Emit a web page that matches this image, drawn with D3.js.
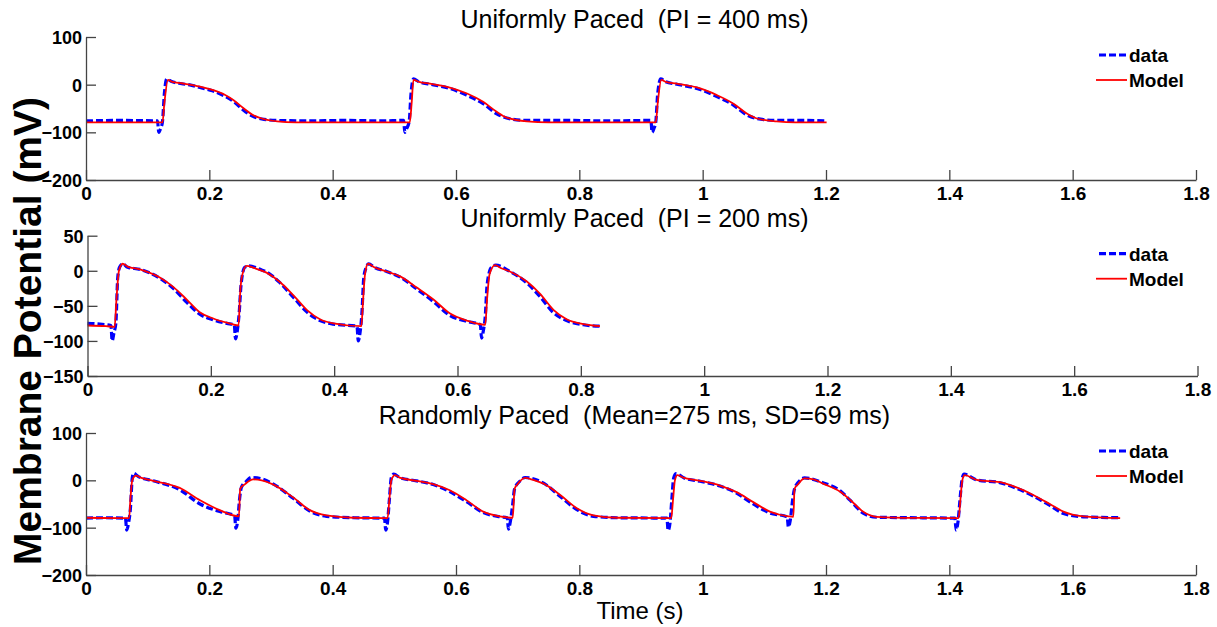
<!DOCTYPE html>
<html>
<head>
<meta charset="utf-8">
<script src="https://cdn.jsdelivr.net/npm/d3@7"></script>
<style>
  html, body { margin: 0; padding: 0; background: #fff; }
  svg { display: block; font-family: "Liberation Sans", Arial, sans-serif; }
  .tick text { font-weight: bold; fill: #000; }
  .ttl { white-space: pre; }
</style>
</head>
<body>
<svg id="chart" width="1217" height="627"></svg>
<script>
// ---------- data (time in s, membrane potential in mV) ----------
const xTicks = [0, 0.2, 0.4, 0.6, 0.8, 1, 1.2, 1.4, 1.6, 1.8];
const yTicksA = [100, 0, -100, -200];
const yTicksB = [50, 0, -50, -100, -150];
const titles = ["Uniformly Paced  (PI = 400 ms)", "Uniformly Paced  (PI = 200 ms)", "Randomly Paced  (Mean=275 ms, SD=69 ms)"];
const legendLabels = ["data", "Model"];

const topModel = [[0,-79],[0.124,-79],[0.127,-40],[0.133,10],[0.14,6],[0.155,3],[0.185,-4],[0.205,-11],[0.225,-21],[0.24,-33],[0.255,-49],[0.27,-63],[0.285,-71],[0.31,-77],[0.34,-79],
  [0.525,-79],[0.528,-40],[0.531,10],[0.54,6],[0.558,2],[0.59,-6],[0.617,-18],[0.644,-36],[0.666,-57],[0.682,-69],[0.715,-77],[0.75,-79],
  [0.924,-79],[0.927,-40],[0.933,10],[0.94,6],[0.958,2],[0.996,-8],[1.023,-22],[1.05,-40],[1.071,-60],[1.088,-71],[1.12,-77],[1.15,-79],[1.201,-79]];
const topData = [[0,-76],[0.05,-75],[0.116,-76],[0.118,-100],[0.121,-92],[0.124,-78],[0.127,-20],[0.131,12],[0.138,7],[0.155,2],[0.17,-1],[0.185,-6],[0.205,-13],[0.225,-24],[0.24,-36],[0.255,-53],[0.27,-66],[0.285,-72],[0.31,-75],[0.36,-76],[0.42,-75],[0.48,-76],
  [0.515,-75],[0.517,-100],[0.52,-92],[0.524,-78],[0.527,-20],[0.531,12],[0.54,6],[0.558,1],[0.59,-8],[0.617,-22],[0.644,-40],[0.666,-61],[0.682,-70],[0.715,-75],[0.78,-75],[0.85,-76],
  [0.916,-75],[0.918,-100],[0.921,-92],[0.924,-78],[0.927,-20],[0.932,12],[0.94,6],[0.958,1],[0.996,-10],[1.023,-25],[1.05,-43],[1.071,-63],[1.088,-71],[1.12,-75],[1.16,-75],[1.201,-76]];

const midModel = [[0,-78],[0.03,-79],[0.044,-80],[0.047,-40],[0.051,0],[0.057,10],[0.065,6],[0.085,2],[0.118,-10],[0.139,-23],[0.161,-41],[0.182,-59],[0.204,-68],[0.226,-74],[0.245,-78],
  [0.247,-40],[0.25,-10],[0.258,7],[0.27,4],[0.291,-3],[0.312,-16],[0.334,-35],[0.356,-56],[0.377,-69],[0.399,-75],[0.444,-79],
  [0.447,-40],[0.45,-5],[0.455,10],[0.465,5],[0.485,-1],[0.507,-8],[0.534,-24],[0.561,-41],[0.588,-61],[0.615,-71],[0.645,-77],
  [0.648,-40],[0.652,-5],[0.661,8],[0.67,4],[0.685,-1],[0.712,-15],[0.734,-33],[0.756,-56],[0.777,-69],[0.804,-76],[0.831,-79]];
const midData = [[0,-75],[0.02,-76],[0.038,-78],[0.04,-100],[0.043,-88],[0.046,-75],[0.049,-10],[0.052,5],[0.057,10],[0.065,5],[0.085,2],[0.118,-11],[0.139,-25],[0.161,-45],[0.182,-62],[0.204,-70],[0.226,-75],[0.238,-77],
  [0.24,-97],[0.243,-85],[0.246,-60],[0.249,-20],[0.255,5],[0.262,7],[0.28,2],[0.291,-2],[0.312,-17],[0.334,-38],[0.356,-59],[0.377,-71],[0.399,-76],[0.437,-79],
  [0.439,-100],[0.442,-88],[0.445,-60],[0.448,-10],[0.452,5],[0.456,10],[0.465,5],[0.485,-1],[0.507,-9],[0.534,-26],[0.561,-44],[0.588,-64],[0.615,-72],[0.637,-77],
  [0.639,-96],[0.642,-85],[0.645,-65],[0.648,-20],[0.655,5],[0.662,8],[0.685,-1],[0.712,-17],[0.734,-37],[0.756,-60],[0.777,-71],[0.804,-77],[0.831,-79]];

const botModel = [[0,-79],[0.07,-80],[0.072,-40],[0.075,0],[0.081,10],[0.09,5],[0.109,-1],[0.152,-16],[0.185,-42],[0.217,-63],[0.248,-76],
  [0.25,-18],[0.258,-8],[0.271,2],[0.285,0],[0.304,-9],[0.336,-36],[0.363,-63],[0.39,-74],[0.434,-79],[0.489,-80],
  [0.492,-40],[0.495,0],[0.501,11],[0.51,5],[0.536,-1],[0.563,-8],[0.59,-21],[0.617,-42],[0.644,-66],[0.671,-76],[0.692,-79],
  [0.695,-18],[0.7,-8],[0.712,5],[0.725,1],[0.742,-7],[0.769,-31],[0.796,-59],[0.823,-74],[0.861,-79],[0.949,-80],
  [0.952,-40],[0.955,0],[0.959,11],[0.97,5],[0.996,-1],[1.028,-11],[1.055,-25],[1.082,-46],[1.109,-66],[1.139,-76],[1.147,-77],
  [1.149,-18],[1.155,-8],[1.165,4],[1.18,2],[1.195,-7],[1.223,-24],[1.239,-41],[1.261,-67],[1.282,-77],[1.347,-79.5],[1.415,-80],
  [1.418,-40],[1.421,0],[1.425,11],[1.444,1],[1.482,-4],[1.509,-15],[1.536,-31],[1.563,-50],[1.585,-66],[1.617,-76],[1.677,-80]];
const botData = [[0,-80],[0.03,-79],[0.064,-80],[0.066,-105],[0.069,-90],[0.072,-60],[0.075,5],[0.077,15],[0.085,8],[0.109,-1],[0.152,-20],[0.185,-50],[0.217,-66],[0.241,-75],
  [0.243,-101],[0.246,-85],[0.249,-40],[0.252,-15],[0.26,-2],[0.268,6],[0.285,3],[0.304,-8],[0.336,-38],[0.363,-65],[0.39,-76],[0.434,-79],[0.484,-80],
  [0.486,-105],[0.489,-88],[0.492,-40],[0.495,5],[0.499,13],[0.51,5],[0.536,-1],[0.563,-9],[0.59,-24],[0.617,-45],[0.644,-68],[0.671,-77],[0.683,-79],
  [0.685,-103],[0.688,-88],[0.692,-50],[0.695,-18],[0.705,0],[0.712,6],[0.742,-6],[0.769,-34],[0.796,-62],[0.823,-76],[0.861,-79],[0.942,-80],
  [0.944,-106],[0.947,-90],[0.95,-40],[0.953,5],[0.957,14],[0.97,5],[0.996,-2],[1.028,-12],[1.055,-27],[1.082,-50],[1.109,-69],[1.137,-77],
  [1.139,-99],[1.142,-85],[1.146,-40],[1.149,-18],[1.158,0],[1.165,5],[1.195,-5],[1.223,-22],[1.239,-42],[1.261,-70],[1.282,-78],[1.347,-79],[1.409,-80],
  [1.411,-105],[1.414,-88],[1.418,-30],[1.421,5],[1.424,13],[1.444,1],[1.482,-5],[1.509,-17],[1.536,-33],[1.563,-53],[1.585,-70],[1.617,-77],[1.677,-79]];

// ---------- layout ----------
const panels = [
  { left: 86,   right: 1196,   top: 37,    bottom: 180, yDomain: [-200, 100], yTicks: yTicksA, data: topData, model: topModel, title: titles[0], titleY: 28 },
  { left: 87.5, right: 1197.5, top: 235.7, bottom: 376, yDomain: [-150, 50],  yTicks: yTicksB, data: midData, model: midModel, title: titles[1], titleY: 226.5 },
  { left: 86,   right: 1196,   top: 433,   bottom: 575, yDomain: [-200, 100], yTicks: yTicksA, data: botData, model: botModel, title: titles[2], titleY: 423.5 }
];

const svg = d3.select("#chart");
const axisColor = "#444";

panels.forEach(p => {
  const x = d3.scaleLinear().domain([0, 1.8]).range([p.left, p.right]);
  const y = d3.scaleLinear().domain(p.yDomain).range([p.bottom, p.top]);
  const g = svg.append("g");

  const line = d3.line().x(d => x(d[0])).y(d => y(d[1])).curve(d3.curveMonotoneX);

  g.append("path").datum(p.data).attr("d", line)
    .attr("fill", "none").attr("stroke", "#0000ff").attr("stroke-width", 3.2)
    .attr("stroke-dasharray", "7,3").attr("stroke-linejoin", "round");
  g.append("path").datum(p.model).attr("d", line)
    .attr("fill", "none").attr("stroke", "#ff0000").attr("stroke-width", 1.8)
    .attr("stroke-linejoin", "round");

  const xa = g.append("g").attr("transform", `translate(0,${p.bottom})`)
    .call(d3.axisBottom(x).tickValues(xTicks).tickFormat(d3.format("~g")).tickSize(-10).tickSizeOuter(0).tickPadding(7));
  xa.selectAll("text").style("font-size", "19px");
  const ya = g.append("g").attr("transform", `translate(${p.left},0)`)
    .call(d3.axisLeft(y).tickValues(p.yTicks).tickFormat(d3.format("d")).tickSize(-10).tickSizeOuter(0).tickPadding(4));
  ya.selectAll("text").style("font-size", "18px").attr("dy", "0.36em");
  [xa, ya].forEach(a => {
    a.select(".domain").attr("stroke", axisColor).attr("stroke-width", 1.3);
    a.selectAll(".tick line").attr("stroke", axisColor).attr("stroke-width", 1.3);
  });

  svg.append("text").attr("class", "ttl")
    .attr("x", 634.5).attr("y", p.titleY).attr("text-anchor", "middle")
    .style("font-size", "25px").text(p.title);

  // legend
  const ly1 = p.top + 18, ly2 = p.top + 43;
  svg.append("line").attr("x1", 1099).attr("x2", 1127).attr("y1", ly1).attr("y2", ly1)
    .attr("stroke", "#0000ff").attr("stroke-width", 3.2).attr("stroke-dasharray", "7,3");
  svg.append("line").attr("x1", 1096).attr("x2", 1127).attr("y1", ly2).attr("y2", ly2)
    .attr("stroke", "#ff0000").attr("stroke-width", 1.8);
  svg.append("text").attr("x", 1129).attr("y", ly1 + 7).style("font-size", "19px").style("font-weight", "bold").text(legendLabels[0]);
  svg.append("text").attr("x", 1129).attr("y", ly2 + 7).style("font-size", "19px").style("font-weight", "bold").text(legendLabels[1]);
});

svg.append("text").attr("transform", "translate(41,331) rotate(-90)")
  .attr("text-anchor", "middle").style("font-size", "39px").style("font-weight", "bold")
  .text("Membrane Potential (mV)");
svg.append("text").attr("x", 640).attr("y", 619).attr("text-anchor", "middle")
  .style("font-size", "24px").text("Time (s)");
</script>
</body>
</html>
